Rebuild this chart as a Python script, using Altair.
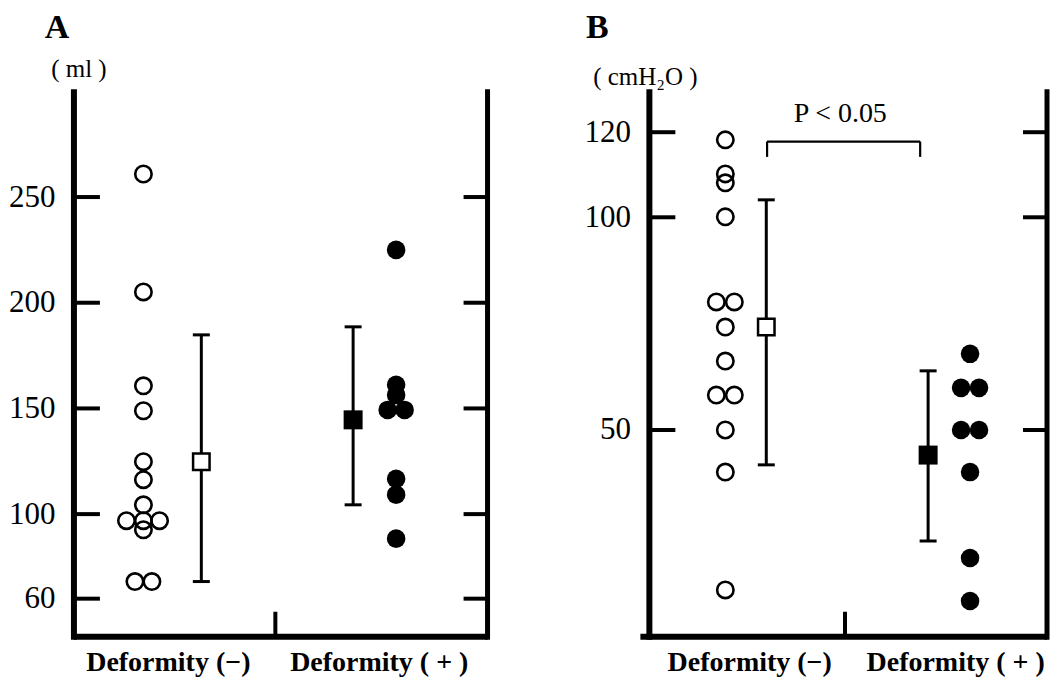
import altair as alt
import pandas as pd

# ---------------- values ----------------
GROUPS = ["Deformity (−)", "Deformity ( + )"]

# Panel A : volume (ml)
A_TICKS = [60, 100, 150, 200, 250]
A_OPEN = [260.9, 205.1, 160.7, 148.9, 124.8, 116.3, 104.4, 96.9, 96.9, 96.9, 92.6, 68.1, 68.1]
A_FILLED = [225.0, 161.2, 156.4, 149.3, 149.3, 116.7, 109.2, 88.4]
A_MEAN = [124.8, 144.6]
A_LOW = [68.1, 104.4]
A_HIGH = [184.8, 188.6]

# Panel B : pressure (cmH2O)
B_TICKS = [50, 100, 120]
B_OPEN = [118.2, 110.2, 108.1, 100.1, 80.1, 80.1, 74.2, 66.2, 58.2, 58.2, 50.0, 40.1, 12.4]
B_FILLED = [67.9, 59.9, 59.9, 50.0, 50.0, 40.1, 19.9, 9.8]
B_MEAN = [74.2, 44.1]
B_LOW = [41.8, 23.9]
B_HIGH = [104.1, 63.9]
P_TEXT = ["P < 0.05"]
P_BRACKET = [117.8, 114.2]   # bracket top, bracket ends
P_TEXT_Y = [122.5]

# ---------------- layout (positions / offsets, not data) ----------------
H = 548
FONT = "Liberation Serif"

A_LAYOUT = dict(width=414, domain=[42, 301], open=16.8, bar_open=30.8, bar_filled=67.5, filled=77.9,
                mid=48.7, labels=[22.7, 73.7], letter="A", letter_dx=-17, unit="( ml )", unit_dx=5,
                unit_dy=-12, bottom_start=0,
                open_dx=[0, 0, 0, 0, 0, 0, 0, -4.1, 0, 3.9, 0, -2.05, 2.05],
                filled_dx=[0, 0, 0, -2.05, 2.05, 0, 0, 0])
B_LAYOUT = dict(width=398, domain=[1.4, 130.1], open=19.1, bar_open=29.4, bar_filled=70.1, filled=80.65,
                mid=49.2, labels=[25.1, 76.9], letter="B", letter_dx=-52, unit="( cmH₂O )", unit_dx=-4,
                unit_dy=-4, bottom_start=-9,
                open_dx=[0, 0, 0, 0, -2.26, 2.26, 0, 0, -2.26, 2.26, 0, 0, 0],
                filled_dx=[0, -2.26, 2.26, -2.26, 2.26, 0, 0, 0],
                bracket_x=[29.6, 68.1], p_x=48)


def panel(L, open_v, filled_v, mean, low, high, ticks, bracket=False):
    W = L["width"]
    xs = alt.Scale(domain=[0, 100], nice=False, zero=False)
    ys = alt.Scale(domain=L["domain"], nice=False, zero=False)
    xaxis = alt.Axis(values=L["labels"],
                     labelExpr=f"datum.value < 50 ? '{GROUPS[0]}' : '{GROUPS[1]}'",
                     ticks=False, domain=False, grid=False, title=None,
                     labelFont=FONT, labelFontWeight="bold", labelFontSize=28,
                     labelColor="black", labelPadding=12, labelFlush=False,
                     labelOverlap=False, labelBound=False, labelLimit=0)
    yaxis = alt.Axis(values=ticks, ticks=False, domain=False, grid=False, title=None,
                     labelFont=FONT, labelFontSize=31, labelColor="black",
                     labelPadding=19, labelFlush=False, labelOverlap=False, labelLimit=0)

    def X(f):
        return alt.X(f, type="quantitative", scale=xs, axis=xaxis)

    def Y(f):
        return alt.Y(f, type="quantitative", scale=ys, axis=yaxis)

    one = pd.DataFrame({"k": [0]})
    layers = []
    # axis lines
    layers.append(alt.Chart(one).mark_rule(color="black", strokeWidth=6).encode(
        x=alt.value(0), y=alt.value(0), y2=alt.value(H + 3)))
    layers.append(alt.Chart(one).mark_rule(color="black", strokeWidth=5).encode(
        x=alt.value(W), y=alt.value(0), y2=alt.value(H + 3)))
    layers.append(alt.Chart(one).mark_rule(color="black", strokeWidth=6).encode(
        x=alt.value(L["bottom_start"]), x2=alt.value(W), y=alt.value(H)))
    # inward ticks
    tdf = pd.DataFrame({"v": ticks})
    layers.append(alt.Chart(tdf).mark_rule(color="black", strokeWidth=4).encode(
        y=Y("v"), x=alt.value(0), x2=alt.value(26)))
    layers.append(alt.Chart(tdf).mark_rule(color="black", strokeWidth=4).encode(
        y=Y("v"), x=alt.value(W - 24), x2=alt.value(W)))
    layers.append(alt.Chart(pd.DataFrame({"m": [L["mid"]]})).mark_rule(color="black", strokeWidth=4).encode(
        x=X("m"), y=alt.value(H - 25), y2=alt.value(H)))

    # error bars
    edf = pd.DataFrame({"x": [L["bar_open"], L["bar_filled"]], "mean": mean, "lo": low, "hi": high,
                        "g": ["open", "filled"]})
    layers.append(alt.Chart(edf).mark_rule(color="black", strokeWidth=3).encode(
        x=X("x"), y=Y("lo"), y2=alt.Y2("hi")))
    for f in ["lo", "hi"]:
        layers.append(alt.Chart(edf).mark_rule(color="black", strokeWidth=3, xOffset=-8.5, x2Offset=8.5).encode(
            x=X("x"), x2=alt.X2("x"), y=Y(f)))
    layers.append(alt.Chart(edf[edf.g == "open"]).mark_point(
        shape="square", filled=True, fill="white", stroke="black", strokeWidth=2.5, size=272, opacity=1).encode(
        x=X("x"), y=Y("mean")))
    layers.append(alt.Chart(edf[edf.g == "filled"]).mark_point(
        shape="square", filled=True, color="black", size=361, opacity=1).encode(
        x=X("x"), y=Y("mean")))

    # individual points
    odf = pd.DataFrame({"x": [L["open"] + d for d in L["open_dx"]], "y": open_v})
    fdf = pd.DataFrame({"x": [L["filled"] + d for d in L["filled_dx"]], "y": filled_v})
    layers.append(alt.Chart(odf).mark_point(shape="circle", filled=False, color="black",
                                            strokeWidth=2.6, size=270, opacity=1).encode(x=X("x"), y=Y("y")))
    layers.append(alt.Chart(fdf).mark_point(shape="circle", filled=True, color="black",
                                            size=345, opacity=1).encode(x=X("x"), y=Y("y")))

    if bracket:
        bx0, bx1 = L["bracket_x"]
        bdf = pd.DataFrame({"x": [bx0, bx0, bx1], "x2": [bx1, bx0, bx1],
                            "y": [P_BRACKET[0]] * 3, "y2": [P_BRACKET[0], P_BRACKET[1], P_BRACKET[1]]})
        layers.append(alt.Chart(bdf).mark_rule(color="black", strokeWidth=2.2).encode(
            x=X("x"), x2=alt.X2("x2"), y=Y("y"), y2=alt.Y2("y2")))
        pdf = pd.DataFrame({"t": P_TEXT, "x": [L["p_x"]], "y": P_TEXT_Y})
        layers.append(alt.Chart(pdf).mark_text(font=FONT, fontSize=28, color="black", align="center",
                                               baseline="alphabetic").encode(
            x=X("x"), y=Y("y"), text="t:N"))

    # panel letter and unit
    layers.append(alt.Chart(pd.DataFrame({"t": [L["letter"]]})).mark_text(
        font=FONT, fontSize=34, fontWeight="bold", color="black", align="center", baseline="alphabetic").encode(
        x=alt.value(L["letter_dx"]), y=alt.value(-51), text="t:N"))
    layers.append(alt.Chart(pd.DataFrame({"t": [L["unit"]]})).mark_text(
        font=FONT, fontSize=25, color="black", align="center", baseline="alphabetic").encode(
        x=alt.value(L["unit_dx"]), y=alt.value(L["unit_dy"]), text="t:N"))

    return alt.layer(*layers).properties(width=W, height=H)


chart_a = panel(A_LAYOUT, A_OPEN, A_FILLED, A_MEAN, A_LOW, A_HIGH, A_TICKS)
chart_b = panel(B_LAYOUT, B_OPEN, B_FILLED, B_MEAN, B_LOW, B_HIGH, B_TICKS, bracket=True)

chart = alt.hconcat(chart_a, chart_b, spacing=93).properties(
    padding={"left": 0, "top": 3, "right": 0, "bottom": 0},
    background="white",
).configure_view(stroke=None)

chart.save("out.html", embed_options={"renderer": "svg", "actions": False})
